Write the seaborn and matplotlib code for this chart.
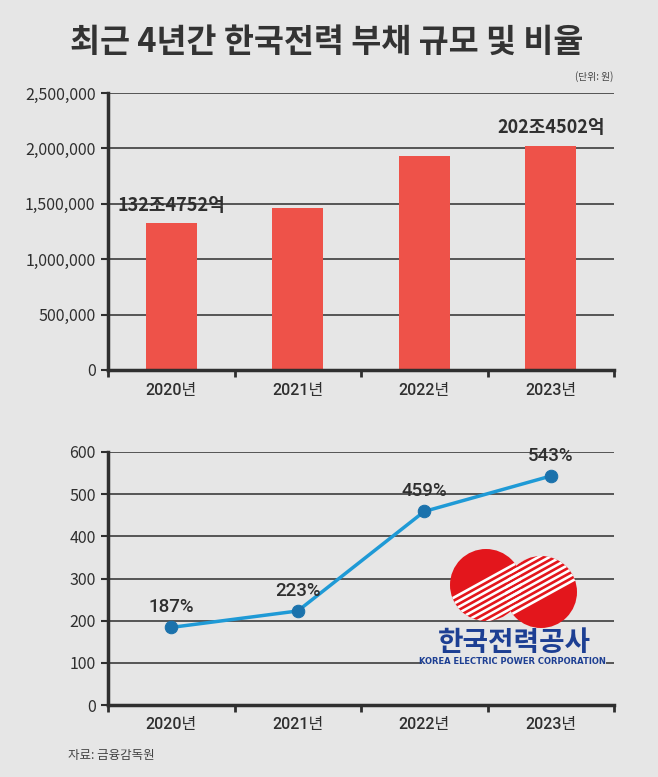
# Import necessary libraries
import numpy as np
import pandas as pd
import seaborn as sns
import matplotlib.pyplot as plt
from matplotlib.ticker import FuncFormatter, FixedLocator
from matplotlib.patches import Circle, Rectangle

# Data
years = ["2020년", "2021년", "2022년", "2023년"]
debt = [1324752, 1457970, 1928047, 2024502]          # 억원
debt_labels = ["132조4752억", "", "", "202조4502억"]
ratio = [184, 223, 459, 543]                          # %
ratio_labels = ["187%", "223%", "459%", "543%"]

BG = "#e6e6e6"
DARK = "#2f2f2f"
BAR = "#ee5249"
LINE = "#1f9ad6"
DOT = "#1b72ac"
MED = ["Roboto", "Noto Sans CJK KR", "DejaVu Sans"]

sns.set_style("white", {"axes.facecolor": BG, "figure.facecolor": BG})
plt.rcParams["font.family"] = ["Noto Sans CJK KR", "DejaVu Sans"]

fig = plt.figure(figsize=(6.58, 7.77), dpi=100)
W, H = 658, 777


def px_axes(x0, y0, x1, y1, **kw):
    return fig.add_axes([x0 / W, 1 - y1 / H, (x1 - x0) / W, (y1 - y0) / H], **kw)


def style_axes(ax):
    sns.despine(ax=ax, top=True, right=True)
    for s in ("left", "bottom"):
        ax.spines[s].set_color(DARK)
        ax.spines[s].set_linewidth(2.5)
    ax.yaxis.grid(True, color="#555555", lw=1.4)
    ax.set_axisbelow(True)
    ax.set_xlim(-0.5, 3.5)
    ax.tick_params(axis="y", which="major", length=5, width=1.5, color=DARK,
                   direction="out", labelsize=11.5, labelcolor=DARK, pad=4, left=True)
    ax.xaxis.set_minor_locator(FixedLocator([-0.5, 0.5, 1.5, 2.5, 3.5]))
    ax.tick_params(axis="x", which="minor", length=5, width=2, color=DARK,
                   direction="out", bottom=True)
    ax.tick_params(axis="x", which="major", length=0, labelsize=11.5, labelcolor=DARK, pad=9)
    for t in ax.get_xticklabels():
        t.set_family(MED)
        t.set_fontweight("medium")
    ax.set_xlabel("")
    ax.set_ylabel("")


# Top: debt bars
ax1 = px_axes(108, 93, 614, 370)
sns.barplot(x=years, y=debt, color=BAR, width=0.4, saturation=1, linewidth=0, ax=ax1)
ax1.set_ylim(0, 2500000)
ax1.set_yticks(np.arange(0, 2500001, 500000))
ax1.yaxis.set_major_formatter(FuncFormatter(lambda v, p: f"{int(v):,}"))
style_axes(ax1)
for i, (v, lab) in enumerate(zip(debt, debt_labels)):
    if lab:
        ax1.annotate(lab, (i, v), xytext=(0, 6), textcoords="offset points",
                     ha="center", va="bottom", fontsize=13, fontweight="bold", color=DARK)

# Bottom: debt ratio line
ax2 = px_axes(108, 452, 614, 705)
sns.lineplot(x=years, y=ratio, sort=False, color=LINE, lw=2.5, marker="o",
             markersize=9, markerfacecolor=DOT, markeredgecolor=DOT, ax=ax2)
ax2.set_ylim(0, 600)
ax2.set_yticks(np.arange(0, 601, 100))
style_axes(ax2)
for i, (v, lab) in enumerate(zip(ratio, ratio_labels)):
    ax2.annotate(lab, (i, v), xytext=(0, 8), textcoords="offset points",
                 ha="center", va="bottom", fontsize=13.5, fontweight="medium",
                 family=MED, color=DARK)

# KEPCO logo (approximation), drawn in pixel coordinates
lx0, ly0, lx1, ly1 = 415, 540, 612, 672
lg = px_axes(lx0, ly0, lx1, ly1)
lg.set_xlim(lx0, lx1)
lg.set_ylim(ly1, ly0)
lg.patch.set_alpha(0)
for s in lg.spines.values():
    s.set_visible(False)
lg.set_xticks([])
lg.set_yticks([])
lg.add_patch(Rectangle((422, 630), 184, 39, color=BG, lw=0))
circles = [Circle((486, 585), 36, color="#e3161c", lw=0),
           Circle((541, 592), 36, color="#e3161c", lw=0)]
for c in circles:
    lg.add_patch(c)
d = np.array([1.0, -0.55]) / np.hypot(1.0, -0.55)
nrm = np.array([0.55, 1.0]) / np.hypot(1.0, 0.55)
mid = np.array([513.0, 589.0])
for off in np.arange(-21, 22, 5.3):
    p = mid + nrm * off
    xs = [p[0] - 90 * d[0], p[0] + 90 * d[0]]
    ys = [p[1] - 90 * d[1], p[1] + 90 * d[1]]
    for c in circles:
        ln, = lg.plot(xs, ys, color="white", lw=1.9, solid_capstyle="butt")
        ln.set_clip_path(c)
lg.text(514, 643, "한국전력공사", ha="center", va="center", fontsize=20,
        fontweight="bold", color="#1d3f93")
lg.text(512, 661, "KOREA ELECTRIC POWER CORPORATION", ha="center", va="center",
        fontsize=6, fontweight="bold", color="#1d3f93", family="DejaVu Sans")

# Texts
fig.text(0.496, 1 - 42 / H, "최근 4년간 한국전력 부채 규모 및 비율", ha="center", va="center",
         fontsize=23.5, fontweight="bold", color="#333333")
fig.text(613 / W, 1 - 77 / H, "(단위: 원)", ha="right", va="center", fontsize=7, color="#444444")
fig.text(68 / W, 1 - 756 / H, "자료: 금융감독원", ha="left", va="center", fontsize=9, color="#444444")

# Save the plot
plt.savefig("out.png", dpi=100, facecolor=BG)
